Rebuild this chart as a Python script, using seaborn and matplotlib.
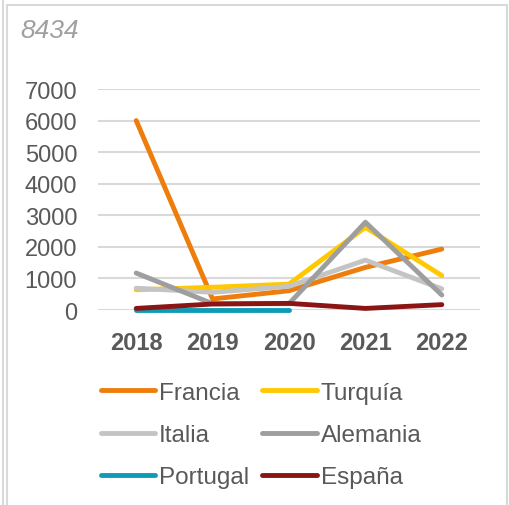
import pandas as pd
import numpy as np
import matplotlib
matplotlib.use("Agg")
import matplotlib.pyplot as plt
from matplotlib.patches import Rectangle
from matplotlib.lines import Line2D
import seaborn as sns

# datos
years = ["2018", "2019", "2020", "2021", "2022"]
francia = [6000, 350, 610, 1350, 1930]
turquia = [640, 720, 820, 2620, 1090]
italia = [690, 560, 750, 1580, 670]
alemania = [1170, 200, 200, 2780, 475]
portugal = [10, 10, 10, np.nan, np.nan]
espana = [50, 190, 210, 50, 170]

series = ["Francia", "Turquía", "Italia", "Alemania", "Portugal", "España"]
colores = ["#EE7D0C", "#FFC800", "#C4C4C4", "#9E9E9E", "#0E9BB5", "#8B1414"]
titulo = "8434"

values = [francia, turquia, italia, alemania, portugal, espana]
rows = []
for name, vals in zip(series, values):
    for i, v in enumerate(vals):
        rows.append({"year": i, "valor": v, "pais": name})
df = pd.DataFrame(rows)

sns.set_style("white")
plt.rcParams["font.family"] = ["Liberation Sans", "DejaVu Sans"]

fig = plt.figure(figsize=(5.09, 5.06), dpi=100)
ax = fig.add_axes([98 / 509, 1 - 311 / 506, 382 / 509, 221 / 506])

sns.lineplot(data=df, x="year", y="valor", hue="pais", hue_order=series,
             palette=colores, linewidth=3.5, ax=ax, legend=False,
             solid_capstyle="round", clip_on=False)

ax.set_xlim(-0.5, 4.5)
ax.set_ylim(0, 7000)
ax.set_yticks(range(0, 7001, 1000))
ax.set_xticks(range(len(years)))
ax.set_xticklabels(years, fontweight="bold")
ax.tick_params(axis="both", length=0, labelsize=17, labelcolor="#595959")
ax.tick_params(axis="x", pad=15)
ax.tick_params(axis="y", pad=15)
ax.yaxis.grid(True, color="#D9D9D9", linewidth=1.5)
ax.set_axisbelow(True)
for s in ax.spines.values():
    s.set_visible(False)
ax.set_xlabel("")
ax.set_ylabel("")

fig.text(20 / 509, 1 - 31 / 506, titulo, fontsize=19, style="italic",
         color="#A0A0A0", va="center", ha="left")

# leyenda por filas: reordenar para que ncol=2 llene fila a fila
orden = [0, 2, 4, 1, 3, 5]
handles = [Line2D([0], [0], color=colores[i], linewidth=3.5,
                  solid_capstyle="round") for i in orden]
labels = [series[i] for i in orden]
fig.legend(handles, labels, loc="center", ncol=2,
           bbox_to_anchor=(261 / 509, 1 - 436 / 506), frameon=False,
           fontsize=17.5, labelcolor="#595959", handlelength=2.25,
           handletextpad=0.15, columnspacing=0.55, labelspacing=0.84)

# marco del grafico
fig.patches.append(Rectangle((7 / 509, -0.01), 500 / 509, 1 - 6 / 506 + 0.01,
                             transform=fig.transFigure, fill=False,
                             edgecolor="#D9D9D9", linewidth=1.5))
fig.lines.append(Line2D([3 / 509, 3 / 509], [0, 1], transform=fig.transFigure,
                        color="#D9D9D9", linewidth=1.5))

fig.savefig("out.png", dpi=100)
